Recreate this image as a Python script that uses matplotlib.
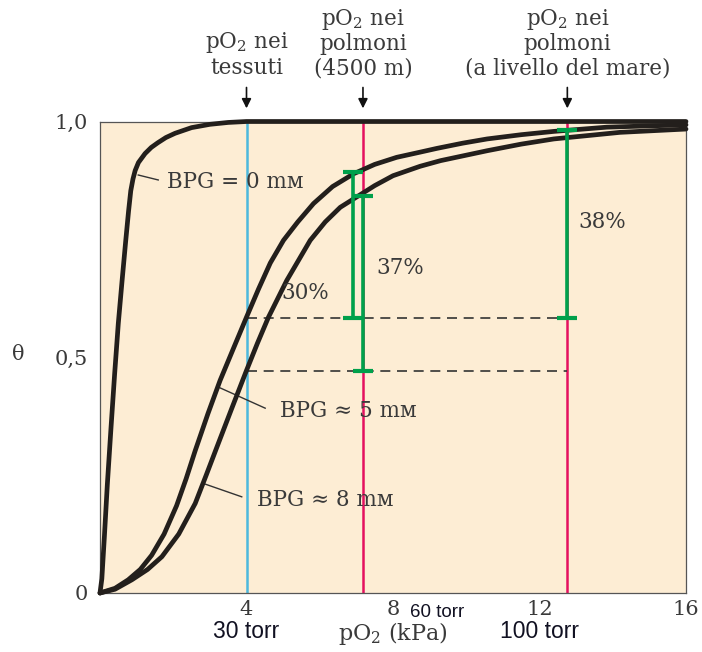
import numpy as np
import matplotlib.pyplot as plt

plt.rcParams['mathtext.fontset'] = 'dejavuserif'

# curve readings (kPa, theta)
kpa_0 = [0, 0.05, 0.12, 0.2, 0.3, 0.4, 0.5, 0.6, 0.7, 0.78, 0.84, 0.9, 0.96, 1.05, 1.23, 1.4, 1.58, 1.8, 2.05, 2.5, 3.0, 3.5, 4.0, 16]
theta_0 = [0, 0.03, 0.12, 0.23, 0.35, 0.465, 0.572, 0.66, 0.745, 0.81, 0.853, 0.878, 0.896, 0.913, 0.932, 0.945, 0.955, 0.966, 0.975, 0.987, 0.994, 0.998, 1.0, 1.0]

kpa_5 = [0, 0.41, 0.77, 1.1, 1.41, 1.75, 2.09, 2.35, 2.6, 2.95, 3.28, 3.65, 4.0, 4.33, 4.65, 5.01, 5.4, 5.83, 6.35, 6.92, 7.5, 8.1, 8.74, 9.2, 9.9, 10.57, 11.5, 12.39, 13.84, 16]
theta_5 = [0, 0.01, 0.028, 0.05, 0.08, 0.125, 0.185, 0.242, 0.302, 0.381, 0.451, 0.52, 0.585, 0.645, 0.70, 0.748, 0.787, 0.826, 0.862, 0.889, 0.909, 0.924, 0.935, 0.943, 0.954, 0.963, 0.972, 0.979, 0.988, 0.993]

kpa_8 = [0, 0.41, 0.87, 1.3, 1.69, 2.15, 2.6, 2.9, 3.17, 3.6, 4.0, 4.3, 4.6, 5.1, 5.74, 6.15, 6.56, 7.01, 7.5, 8.0, 8.74, 9.3, 10.57, 11.5, 12.39, 14.2, 16]
theta_8 = [0, 0.008, 0.028, 0.05, 0.077, 0.125, 0.19, 0.25, 0.305, 0.392, 0.472, 0.53, 0.585, 0.663, 0.748, 0.787, 0.818, 0.84, 0.864, 0.885, 0.905, 0.917, 0.938, 0.952, 0.963, 0.977, 0.984]

# reference pressures
p_tissue = 4.0
p_lungs = [7.18, 12.76]
lo_levels = [0.583, 0.471]

# saturation differences
bar_x = [6.9, 7.18, 12.76]
bar_lo = [0.583, 0.471, 0.583]
bar_hi = [0.892, 0.841, 0.981]
bar_txt = ['30%', '37%', '38%']
bar_txt_pos = [(5.6, 0.636), (8.2, 0.69), (13.7, 0.787)]

top_labels = ['pO$_2$ nei\ntessuti', 'pO$_2$ nei\npolmoni\n(4500 m)',
              'pO$_2$ nei\npolmoni\n(a livello del mare)']
top_x = [4.0, 7.18, 12.76]

serif = ['DejaVu Serif', 'DejaVu Sans']
txtcol = '#3a3a3a'
fs = 15.5

fig = plt.figure(figsize=(7.02, 6.52), dpi=100)
ax = fig.add_axes([100 / 702, 59 / 652, 586 / 702, 471.5 / 652])
ax.set_facecolor('#FDEDD4')
ax.set_xlim(0, 16)
ax.set_ylim(0, 1)

ax.axvline(p_tissue, color='#4DB8DD', lw=1.8, zorder=1)
for p in p_lungs:
    ax.axvline(p, color='#E5105F', lw=1.8, zorder=1)
for lv in lo_levels:
    ax.plot([p_tissue, p_lungs[1]], [lv, lv], color='#333333', lw=1.2,
            dashes=(6, 4), zorder=2)

for xs, ys in [(kpa_0, theta_0), (kpa_5, theta_5), (kpa_8, theta_8)]:
    ax.plot(xs, ys, color='#231f1c', lw=3.4, solid_capstyle='round',
            solid_joinstyle='round', clip_on=False, zorder=3)

for x, lo, hi in zip(bar_x, bar_lo, bar_hi):
    ax.plot([x, x], [lo, hi], color='#00A04B', lw=2.6, zorder=4)
    ax.plot([x, x], [lo, hi], ls='none', marker='_', ms=15, mew=3,
            color='#00A04B', zorder=4)

for t, (tx, ty) in zip(bar_txt, bar_txt_pos):
    ax.text(tx, ty, t, ha='center', va='center', fontsize=fs,
            family=serif, color=txtcol)

# curve labels with leader lines
ax.plot([1.045, 1.59], [0.8865, 0.876], color='#333333', lw=1)
ax.text(1.84, 0.872, 'BPG = 0 mᴍ', ha='left', va='center', fontsize=fs,
        family=serif, color=txtcol)
ax.plot([3.28, 4.51], [0.435, 0.392], color='#333333', lw=1)
ax.text(4.92, 0.387, 'BPG ≈ 5 mᴍ', ha='left', va='center', fontsize=fs,
        family=serif, color=txtcol)
ax.plot([2.87, 3.87], [0.231, 0.204], color='#333333', lw=1)
ax.text(4.3, 0.197, 'BPG ≈ 8 mᴍ', ha='left', va='center', fontsize=fs,
        family=serif, color=txtcol)

for x, lab in zip(top_x, top_labels):
    ax.text(x, 1.09, lab, ha='center', va='bottom', fontsize=fs,
            family=serif, color=txtcol, linespacing=1.1, clip_on=False)
    ax.annotate('', xy=(x, 1.022), xytext=(x, 1.078),
                arrowprops=dict(arrowstyle='-|>', color='#111111', lw=1.2,
                                mutation_scale=14),
                annotation_clip=False)

ax.set_xticks([4, 8, 12, 16])
ax.set_xticklabels(['4', '8', '12', '16'], family=serif, fontsize=15, color=txtcol)
ax.set_yticks([0, 0.5, 1])
ax.set_yticklabels(['0', '0,5', '1,0'], family=serif, fontsize=15, color=txtcol)
ax.tick_params(which='major', length=0)
ax.tick_params(axis='x', which='major', pad=5)
ax.tick_params(axis='y', which='major', pad=9)
ax.set_xticks([4, 8, 12], minor=True)
ax.set_yticks([0.5], minor=True)
ax.tick_params(which='minor', direction='in', length=9, width=1, color='#444444')
for sp in ax.spines.values():
    sp.set_color('#555555')
    sp.set_linewidth(0.9)

fig.text(12 / 702, 1 - 355 / 652, 'θ', family=serif, fontsize=15,
         color=txtcol, ha='left', va='center')

ax.text(4, -0.082, '30 torr', ha='center', va='center', fontsize=16.5,
        family='Liberation Sans', color='#111122', clip_on=False)
ax.text(12, -0.082, '100 torr', ha='center', va='center', fontsize=16.5,
        family='Liberation Sans', color='#111122', clip_on=False)
ax.text(9.2, -0.042, '60 torr', ha='center', va='center', fontsize=13.5,
        family='Liberation Sans', color='#111122', clip_on=False)
ax.text(8.0, -0.085, 'pO$_2$ (kPa)', ha='center', va='center', fontsize=16,
        family=serif, color=txtcol, clip_on=False)

fig.savefig('out.png', dpi=100)
